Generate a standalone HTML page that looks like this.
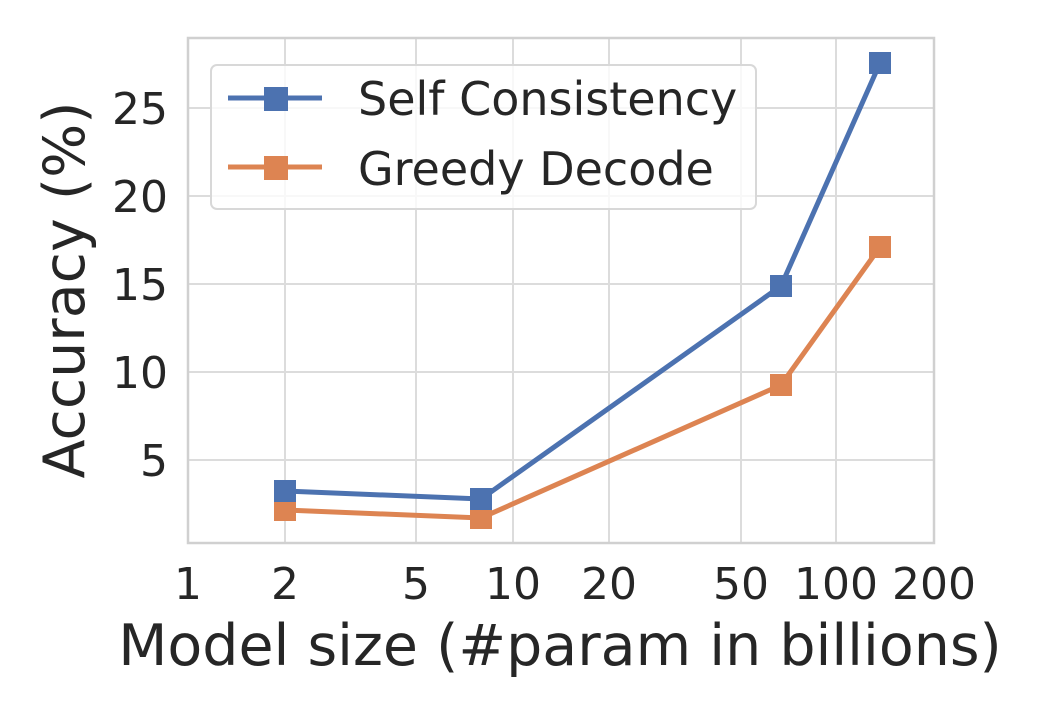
<!DOCTYPE html>
<html><head><style>body{margin:0;background:#fff}</style></head><body>
<svg width="1062" height="704" xmlns="http://www.w3.org/2000/svg" font-family="DejaVu Sans, sans-serif">
<rect width="1062" height="704" fill="#fff"/>
<g stroke="#dcdcdc" stroke-width="2">
<line x1="285" y1="38" x2="285" y2="543"/><line x1="416" y1="38" x2="416" y2="543"/>
<line x1="513" y1="38" x2="513" y2="543"/><line x1="609" y1="38" x2="609" y2="543"/>
<line x1="741" y1="38" x2="741" y2="543"/><line x1="836" y1="38" x2="836" y2="543"/>
<line x1="188" y1="460" x2="934" y2="460"/><line x1="188" y1="372" x2="934" y2="372"/>
<line x1="188" y1="284" x2="934" y2="284"/><line x1="188" y1="196" x2="934" y2="196"/>
<line x1="188" y1="108" x2="934" y2="108"/>
</g>
<rect x="188" y="38" width="746" height="505" fill="none" stroke="#d0d0d0" stroke-width="2.5"/>
<polyline points="285,510 481,518 781,385 880,247" fill="none" stroke="#dd8452" stroke-width="5"/>
<polyline points="285,491 481,499 781,286 880,63" fill="none" stroke="#4c72b0" stroke-width="5"/>
<g fill="#dd8452"><rect x="274" y="499" width="22" height="22"/><rect x="470" y="507" width="22" height="22"/><rect x="770" y="374" width="22" height="22"/><rect x="869" y="236" width="22" height="22"/></g>
<g fill="#4c72b0"><rect x="274" y="480" width="22" height="22"/><rect x="470" y="488" width="22" height="22"/><rect x="770" y="275" width="22" height="22"/><rect x="869" y="52" width="22" height="22"/></g>
<rect x="211" y="65" width="545" height="144" rx="6" fill="#fff" fill-opacity="0.8" stroke="#d8d8d8" stroke-width="2"/>
<line x1="228" y1="98" x2="322" y2="98" stroke="#4c72b0" stroke-width="5"/><rect x="264" y="87" width="24" height="24" fill="#4c72b0"/>
<line x1="228" y1="167" x2="322" y2="167" stroke="#dd8452" stroke-width="5"/><rect x="264" y="156" width="24" height="24" fill="#dd8452"/>
<g fill="#262626" font-size="46"><text x="358" y="115">Self Consistency</text><text x="358" y="185">Greedy Decode</text></g>
<g fill="#262626" font-size="44" text-anchor="end">
<text x="168" y="476">5</text><text x="168" y="388">10</text><text x="168" y="300">15</text><text x="168" y="212">20</text><text x="168" y="124">25</text></g>
<g fill="#262626" font-size="44" text-anchor="middle">
<text x="188" y="599">1</text><text x="285" y="599">2</text><text x="416" y="599">5</text><text x="513" y="599">10</text><text x="609" y="599">20</text><text x="741" y="599">50</text><text x="836" y="599">100</text><text x="934" y="599">200</text></g>
<text x="560" y="665" font-size="57" fill="#262626" text-anchor="middle">Model size (#param in billions)</text>
<text transform="translate(84,290) rotate(-90)" font-size="57" fill="#262626" text-anchor="middle">Accuracy (%)</text>
</svg>
</body></html>
